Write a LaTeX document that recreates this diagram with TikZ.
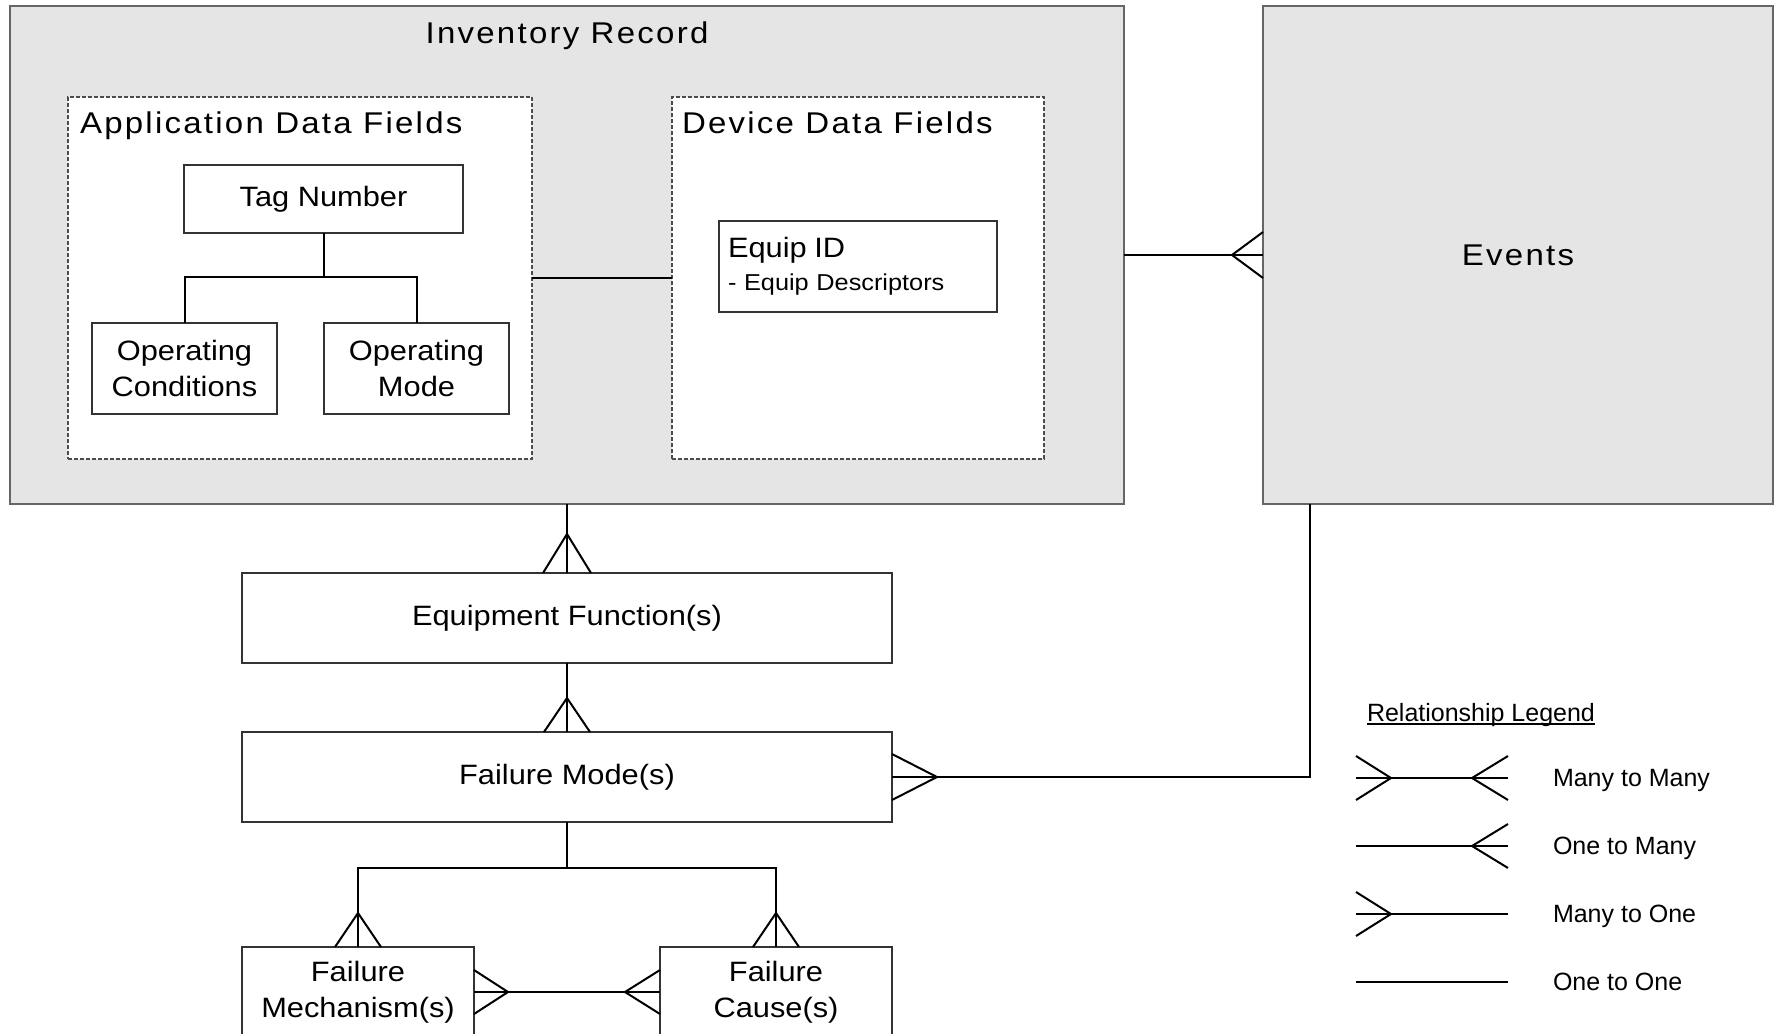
\documentclass[tikz,border=0pt]{standalone}
\usepackage{fontspec}
\setmainfont{Liberation Sans}
\newfontfamily\boxfont[FakeStretch=1.1]{Liberation Sans}
\newfontfamily\titlefont[FakeStretch=1.1,LetterSpace=7.5]{Liberation Sans}

\begin{document}
\begin{tikzpicture}[
                    x=0.5pt, y=-0.5pt, % one unit is one pixel of the sketch, y runs down
                    every node/.style={inner sep=0pt, outer sep=0pt},
                    record/.style={draw=black!60, fill=black!10, line width=1pt},
                    fieldbox/.style={draw=black!70, fill=white, line width=0.6pt, dash pattern=on 2pt off 1pt},
                    entity/.style={draw=black!80, fill=white, line width=0.8pt, align=center,
                                   font=\boxfont\fontsize{14}{18}\selectfont},
                    heading/.style={font=\titlefont\fontsize{15}{18}\selectfont},
                    link/.style={line width=1pt},
                    legendtext/.style={anchor=base west, font=\fontsize{12.5}{15}\selectfont}
                ]

                \useasboundingbox (0,0) rectangle (1779,1034);
                \clip (0,0) rectangle (1779,1034);

                % records
                \node[record, minimum width=557pt, minimum height=249pt] (inv) at (567,255) {};
                \node[heading, anchor=base] (invtitle) at (567,43) {Inventory Record};
                \node[record, heading, minimum width=255pt, minimum height=249pt] (events) at (1518,255) {Events};

                \node[fieldbox, minimum width=232pt, minimum height=181pt] (app) at (300,278) {};
                \node[heading, anchor=base west] (apptitle) at (80,133) {Application Data Fields};
                \node[fieldbox, minimum width=186pt, minimum height=181pt] (dev) at (858,278) {};
                \node[heading, anchor=base west] (devtitle) at (682,133) {Device Data Fields};

                \node[entity, minimum width=139.5pt, minimum height=34pt] (tag) at (323.5,199) {Tag Number};
                \node[entity, minimum width=92.5pt, minimum height=45.5pt] (opcond) at (184.5,368.5) {Operating\\Conditions};
                \node[entity, minimum width=92.5pt, minimum height=45.5pt] (opmode) at (416.5,368.5) {Operating\\Mode};
                \node[entity, minimum width=139pt, minimum height=45.5pt, text width=130pt, align=left,
                      font=\boxfont\fontsize{11.5}{16.5}\selectfont] (equip) at (858,266.5)
                     {{\fontsize{14}{16.5}\selectfont Equip ID}\\- Equip Descriptors};

                \node[entity, minimum width=325pt, minimum height=45pt] (eqf) at (567,618) {Equipment Function(s)};
                \node[entity, minimum width=325pt, minimum height=45pt] (fm) at (567,777) {Failure Mode(s)};
                \node[entity, minimum width=116pt, minimum height=45pt] (mech) at (358,992) {Failure\\Mechanism(s)};
                \node[entity, minimum width=116pt, minimum height=45pt] (cause) at (776,992) {Failure\\Cause(s)};

                % links
                \coordinate (split) at (323.5,277);
                \coordinate (fork) at (567,868);
                \draw[link] (tag.south) -- (split);
                \draw[link] (opcond.north) |- (split) -| (opmode.north);
                \draw[link] (app.east) -- (dev.west);

                \draw[link] (inv.east) -- (events.west);
                \draw[link] ([shift={(0,-23)}]events.west) -- ++(-31,23) -- ++(31,23);

                \draw[link] (inv.south) -- (eqf.north);
                \draw[link] ([shift={(-24,0)}]eqf.north) -- ++(24,-39) -- ++(24,39);
                \draw[link] (eqf.south) -- (fm.north);
                \draw[link] ([shift={(-23,0)}]fm.north) -- ++(23,-34) -- ++(23,34);

                \draw[link] ([shift={(47,0)}]events.south west) |- (fm.east);
                \draw[link] ([shift={(0,-23)}]fm.east) -- ++(45,23) -- ++(-45,23);

                \draw[link] (fm.south) -- (fork);
                \draw[link] (mech.north) |- (fork) -| (cause.north);
                \draw[link] ([shift={(-23,0)}]mech.north) -- ++(23,-34) -- ++(23,34);
                \draw[link] ([shift={(-23,0)}]cause.north) -- ++(23,-34) -- ++(23,34);

                \draw[link] (mech.east) -- (cause.west);
                \draw[link] ([shift={(0,-22)}]mech.east) -- ++(34,22) -- ++(-34,22);
                \draw[link] ([shift={(0,-22)}]cause.west) -- ++(-35,22) -- ++(35,22);

                % legend
                \node[legendtext] (lgtitle) at (1367,721) {Relationship Legend};
                \draw[line width=0.6pt] ([shift={(0,3)}]lgtitle.base west) -- ([shift={(0,3)}]lgtitle.base east);

                \coordinate (l1) at (1356,778); \coordinate (r1) at (1508,778);
                \coordinate (l2) at (1356,846); \coordinate (r2) at (1508,846);
                \coordinate (l3) at (1356,914); \coordinate (r3) at (1508,914);
                \coordinate (l4) at (1356,982); \coordinate (r4) at (1508,982);

                \draw[link] (l1) -- (r1);
                \draw[link] ([shift={(0,-22)}]l1) -- ++(35,22) -- ++(-35,22);
                \draw[link] ([shift={(0,-22)}]r1) -- ++(-36,22) -- ++(36,22);
                \draw[link] (l2) -- (r2);
                \draw[link] ([shift={(0,-22)}]r2) -- ++(-36,22) -- ++(36,22);
                \draw[link] (l3) -- (r3);
                \draw[link] ([shift={(0,-22)}]l3) -- ++(35,22) -- ++(-35,22);
                \draw[link] (l4) -- (r4);

                \node[legendtext] (mm) at (1553,786) {Many to Many};
                \node[legendtext] (om) at (1553,854) {One to Many};
                \node[legendtext] (mo) at (1553,922) {Many to One};
                \node[legendtext] (oo) at (1553,990) {One to One};
            \end{tikzpicture}
\end{document}
